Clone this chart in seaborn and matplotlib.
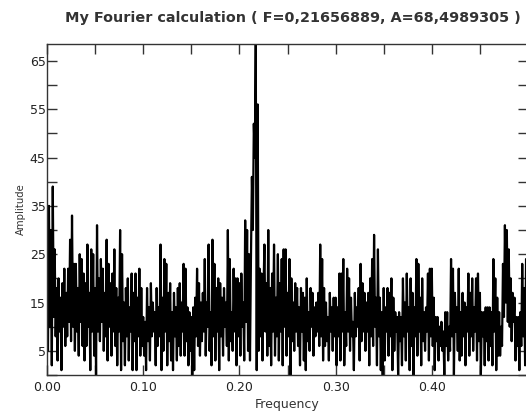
import numpy as np
import pandas as pd
import matplotlib
matplotlib.use("Agg")
import matplotlib.pyplot as plt
import seaborn as sns
from matplotlib.ticker import MultipleLocator, FixedLocator

# Spectrum, one value every 0.001 in frequency
# (one row per 0.01 band)
freq_step = 0.001
amplitude = [
    15, 5, 35, 10, 30, 2, 39, 12, 26, 8,
    18, 3, 20, 9, 16, 1, 19, 10, 22, 6,
    17, 8, 22, 11, 28, 7, 33, 10, 23, 5,
    23, 9, 18, 4, 25, 11, 24, 6, 21, 3,
    19, 6, 27, 10, 17, 1, 26, 9, 25, 4,
    18, 0, 31, 9, 20, 7, 24, 11, 22, 5,
    17, 8, 28, 3, 23, 10, 19, 4, 21, 9,
    26, 6, 18, 2, 16, 9, 30, 1, 25, 7,
    15, 2, 18, 8, 20, 3, 14, 9, 21, 1,
    17, 7, 21, 1, 16, 8, 22, 4, 18, 6,
    12, 4, 11, 1, 18, 7, 14, 3, 19, 8,
    15, 9, 13, 2, 18, 6, 14, 8, 27, 1,
    16, 5, 24, 9, 23, 2, 17, 7, 19, 3,
    13, 1, 17, 8, 14, 3, 18, 6, 19, 4,
    15, 9, 23, 4, 22, 7, 14, 2, 13, 5,
    12, 0, 14, 1, 16, 8, 22, 6, 19, 4,
    15, 7, 17, 9, 24, 4, 15, 10, 27, 5,
    13, 2, 28, 8, 23, 3, 18, 9, 20, 1,
    19, 8, 16, 4, 18, 10, 15, 6, 30, 3,
    24, 7, 13, 5, 22, 9, 20, 2, 20, 8,
    19, 4, 21, 10, 15, 3, 32, 11, 30, 5,
    25, 3, 24, 41, 30, 52, 45, 68.4989305, 1, 56,
    5, 22, 8, 21, 3, 17, 27, 9, 19, 4,
    30, 6, 18, 2, 21, 9, 27, 4, 16, 8,
    25, 3, 19, 9, 24, 2, 26, 10, 26, 4,
    17, 8, 24, 0, 20, 7, 15, 5, 19, 9,
    18, 6, 14, 2, 18, 9, 17, 3, 16, 1,
    20, 7, 13, 5, 18, 10, 17, 4, 14, 8,
    15, 9, 17, 6, 27, 8, 24, 3, 18, 6,
    15, 7, 12, 3, 17, 9, 14, 5, 16, 8,
    16, 2, 14, 8, 21, 3, 21, 9, 24, 2,
    13, 6, 22, 9, 20, 5, 16, 8, 11, 1,
    17, 8, 14, 10, 18, 3, 23, 7, 19, 9,
    17, 5, 15, 9, 17, 2, 20, 8, 24, 6,
    29, 10, 16, 2, 26, 8, 16, 1, 13, 0,
    18, 3, 14, 9, 18, 4, 17, 8, 20, 1,
    16, 5, 13, 9, 12, 0, 13, 7, 12, 2,
    20, 8, 15, 3, 21, 9, 14, 1, 20, 6,
    17, 0, 14, 8, 24, 4, 23, 9, 16, 2,
    20, 7, 13, 5, 14, 9, 21, 3, 22, 8,
    22, 6, 16, 1, 12, 7, 12, 3, 10, 6,
    11, 5, 9, 0, 13, 6, 13, 3, 10, 5,
    24, 8, 22, 0, 17, 9, 14, 5, 22, 3,
    13, 4, 17, 8, 15, 2, 14, 9, 21, 4,
    17, 8, 20, 5, 14, 9, 20, 3, 21, 7,
    17, 0, 13, 8, 13, 2, 14, 7, 14, 3,
    14, 6, 13, 2, 24, 9, 20, 1, 16, 4,
    13, 4, 10, 6, 23, 12, 31, 15, 30, 11,
    26, 10, 20, 7, 17, 11, 16, 3, 12, 6,
    12, 1, 13, 6, 23, 8, 18, 2, 24, 10,
]
x_ticks = [0.0, 0.1, 0.2, 0.3, 0.4]
x_tick_labels = ["0.00", "0.10", "0.20", "0.30", "0.40"]
y_ticks = [5, 15, 25, 35, 45, 55, 65]

title = "My Fourier calculation ( F=0,21656889, A=68,4989305 )"

df = pd.DataFrame({"Frequency": np.arange(len(amplitude)) * freq_step,
                   "Amplitude": amplitude})

sns.set_style("ticks")
plt.rcParams["font.family"] = ["DejaVu Sans"]

fig = plt.figure(figsize=(5.26, 4.12), dpi=100)
ax = fig.add_axes([47 / 526, 1 - 375 / 412, 481 / 526, 331 / 412])

sns.lineplot(data=df, x="Frequency", y="Amplitude", color="black",
             linewidth=1.6, estimator=None, ax=ax)

ax.set_xlim(0, 0.5)
ax.set_ylim(0, 68.5)

ax.xaxis.set_major_locator(FixedLocator(x_ticks))
ax.set_xticklabels(x_tick_labels)
ax.xaxis.set_minor_locator(MultipleLocator(0.05))
ax.yaxis.set_major_locator(FixedLocator(y_ticks))
ax.yaxis.set_minor_locator(MultipleLocator(5))

ax.tick_params(which="both", direction="in", top=True, right=True,
               length=7, width=1, color="#333333", labelsize=9,
               labelcolor="#222222")
ax.tick_params(axis="x", pad=4)
ax.tick_params(axis="y", pad=1)

for s in ax.spines.values():
    s.set_color("#333333")
    s.set_linewidth(1)

ax.set_xlabel("Frequency", fontsize=9, color="#333333", labelpad=3)
ax.set_ylabel("Amplitude", fontsize=7.3, color="#333333", labelpad=3)
fig.text(0.556, 1 - 18 / 412, title, ha="center", va="center",
         fontsize=10.4, fontweight="bold", color="#333333")

fig.savefig("out.png", dpi=100)
